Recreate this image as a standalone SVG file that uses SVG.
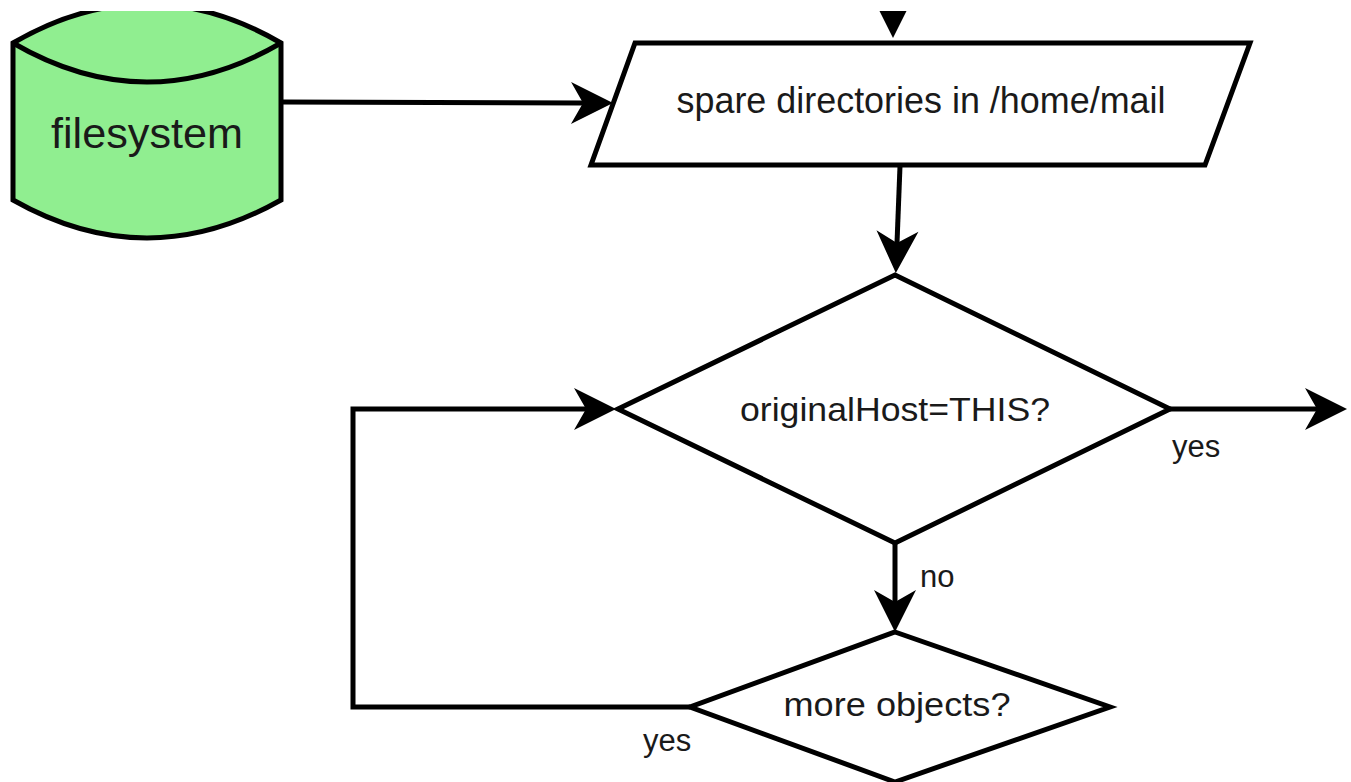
<svg xmlns="http://www.w3.org/2000/svg" width="1351" height="782" viewBox="0 0 1351 782">
<style>
.shape{stroke:#000;stroke-width:5;stroke-linejoin:miter}
.line{fill:none;stroke:#000;stroke-width:5}
.t{font-family:"Liberation Sans",Arial,sans-serif;fill:#1a1a1a;text-anchor:middle}
.lbl{font-family:"Liberation Sans",Arial,sans-serif;fill:#1a1a1a;font-size:31px}
</style>
<defs>
<marker id="arr" markerUnits="userSpaceOnUse" markerWidth="44" markerHeight="44" refX="12" refY="21" orient="auto" overflow="visible">
<path d="M0,0 L42,21 L0,42 L12,21 Z" fill="#000"/>
</marker>
<clipPath id="clip"><rect x="0" y="11" width="1351" height="771"/></clipPath>
</defs>
<rect x="0" y="0" width="1351" height="782" fill="#fff"/>
<g clip-path="url(#clip)">
<g id="connectors">
<path class="line" d="M893,-40 L893,8" marker-end="url(#arr)"/>
<path class="line" d="M282,102 L583,103" marker-end="url(#arr)"/>
<path class="line" d="M900,166 L897,243" marker-end="url(#arr)"/>
<path class="line" d="M1170,409 L1317,409" marker-end="url(#arr)"/>
<path class="line" d="M895,543 L895,602" marker-end="url(#arr)"/>
<path class="line" d="M690,707 L353,707 L353,409 L586,409" marker-end="url(#arr)"/>
</g>
<g id="filesystem">
<path class="shape" fill="#90ee90" d="M13,43 Q147,-35 281,43 L281,200 Q147,276 13,200 Z"/>
<path class="line" d="M13,43 Q147,121 281,43"/>
<text class="t" x="147" y="148" font-size="42" textLength="192" lengthAdjust="spacingAndGlyphs">filesystem</text>
</g>
<g id="spare">
<polygon class="shape" fill="#fff" points="635,43 1250,43 1205,165 591,165"/>
<text class="t" x="921" y="113" font-size="36" textLength="489" lengthAdjust="spacingAndGlyphs">spare directories in /home/mail</text>
</g>
<g id="originalHost">
<polygon class="shape" fill="#fff" points="895,275 1170,409 895,543 618,409"/>
<text class="t" x="895" y="421" font-size="33" textLength="310" lengthAdjust="spacingAndGlyphs">originalHost=THIS?</text>
</g>
<g id="moreObjects">
<polygon class="shape" fill="#fff" points="895,632 1110,707 895,782 690,707"/>
<text class="t" x="897" y="716" font-size="33" textLength="227" lengthAdjust="spacingAndGlyphs">more objects?</text>
</g>
<g id="labels">
<text class="lbl" x="1172" y="457">yes</text>
<text class="lbl" x="920" y="587">no</text>
<text class="lbl" x="643" y="751">yes</text>
</g>
</g>
</svg>
